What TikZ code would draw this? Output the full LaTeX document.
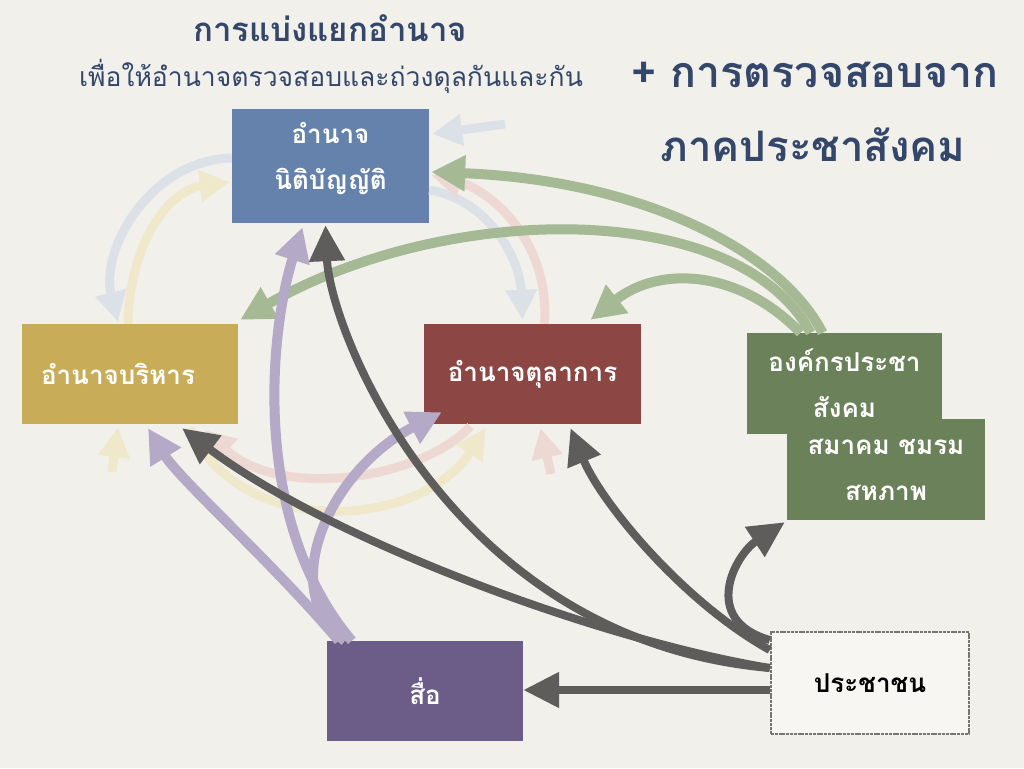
\documentclass[tikz,border=0pt]{standalone}
\usepackage{fontspec}
\setmainfont{Loma}[Script=Thai]
\usetikzlibrary{arrows.meta,positioning,calc}
\definecolor{paper}{HTML}{F2F0EB}
\definecolor{navy}{HTML}{34476A}
\definecolor{legblue}{HTML}{6482AB}
\definecolor{exegold}{HTML}{C9AC57}
\definecolor{judred}{HTML}{8C4643}
\definecolor{socgreen}{HTML}{6A8159}
\definecolor{medpurple}{HTML}{6B5D87}
\definecolor{pplgray}{HTML}{5E5D5C}
\definecolor{medline}{HTML}{B4A9C7}
\definecolor{socline}{HTML}{A5B995}
\definecolor{fblue}{HTML}{DCE1E7}
\definecolor{fyellow}{HTML}{F0E8CB}
\definecolor{fred}{HTML}{EED8D4}
\tikzstyle{power}=[rectangle,inner sep=0pt,text=white,align=center,
                font=\bfseries\fontsize{26}{46}\selectfont]
\tikzstyle{ppl}=[draw=pplgray,line width=8pt,-{Triangle[length=36pt,width=34pt]}]
\tikzstyle{med}=[draw=medline,line width=10pt,-{Triangle[length=34pt,width=34pt]}]
\tikzstyle{soc}=[draw=socline,line width=10pt,-{Triangle[length=34pt,width=34pt]}]
\tikzstyle{fade}=[line width=9pt,-{Triangle[length=30pt,width=30pt]}]

\begin{document}
\begin{tikzpicture}[x=1pt,y=-1pt]
  \fill[paper] (0,0) rectangle (1024,768);
  \useasboundingbox (0,0) rectangle (1024,768);

  % titles
  \node[text=navy,font=\bfseries\fontsize{33}{40}\selectfont] (title) at (330,28) {การแบ่งแยกอำนาจ};
  \node[text=navy,font=\fontsize{26.5}{32}\selectfont] (subtitle) at (331,76) {เพื่อให้อำนาจตรวจสอบและถ่วงดุลกันและกัน};
  \node[text=navy,font=\bfseries\fontsize{43}{52}\selectfont] (check) at (815,75) {+ การตรวจสอบจาก};
  \node[text=navy,font=\bfseries\fontsize{42}{52}\selectfont] (civil) at (813,145) {ภาคประชาสังคม};

  % boxes
  \node[power,fill=legblue,minimum width=197pt,minimum height=114pt,
        label={[power,yshift=7pt]center:อำนาจ\\นิติบัญญัติ}] (leg) at (330.5,166) {};
  \node[power,fill=exegold,minimum width=216pt,minimum height=100pt] (exe) at (130,374) {อำนาจบริหาร\hspace{24pt}};
  \node[power,fill=judred,minimum width=217pt,minimum height=100pt] (jud) at (532.5,374) {อำนาจตุลาการ};
  \node[power,fill=socgreen,minimum width=195pt,minimum height=101pt] (civA) at (844.5,383.5) {องค์กรประชา\\สังคม};
  \node[power,fill=socgreen,minimum width=198pt,minimum height=101pt] (civB) at (886,469.5) {สมาคม ชมรม\\สหภาพ};
  \node[power,fill=medpurple,minimum width=196pt,minimum height=100pt] (media) at (425,691) {สื่อ};
  \node[power,fill=paper!60!white,text=black,draw=pplgray!85,line width=2.5pt,
        dash pattern=on 3pt off .8pt,minimum width=198pt,minimum height=102pt] (people) at (870,683) {ประชาชน};

  % checks among the powers
  \draw[fade,draw=fblue] ($(leg.west)+(0,-8)$) .. controls (150,160) and (100,250) .. ($(exe.north)+(-12,-2)$);
  \draw[fade,draw=fyellow] ($(exe.north)+(-2,0)$) .. controls (130,240) and (170,190) .. ($(leg.west)+(-2,16)$);
  \draw[fade,draw=fblue] ($(leg.east)+(0,24)$) .. controls (490,200) and (520,260) .. ($(jud.north)+(-10,-4)$);
  \draw[fade,draw=fred] ($(jud.north)+(12,0)$) .. controls (550,240) and (490,190) .. ($(leg.east)+(2,9)$);
  \coordinate (stub1) at (505,124);
  \draw[fade,draw=fblue] (stub1) -- ($(leg.east)+(3,-32)$);
  \draw[fade,draw=fred] ($(jud.south)+(-62,2)$) .. controls (420,480) and (280,500) .. ($(exe.south)+(75,6)$);
  \draw[fade,draw=fyellow] ($(exe.south)+(60,4)$) .. controls (240,540) and (420,530) .. ($(jud.south)+(-47,4)$);
  \coordinate (stub2) at (112,472);
  \draw[fade,draw=fyellow] (stub2) -- ($(exe.south)+(-12,3)$);
  \coordinate (stub3) at (551,474);
  \draw[fade,draw=fred] (stub3) -- ($(jud.south)+(8,4)$);

  % civil society
  \draw[soc] ($(civA.north)+(-22,0)$) .. controls (780,250) and (640,180) .. ($(leg.east)+(2,6)$);
  \draw[soc] ($(civA.north)+(-34,0)$) .. controls (740,200) and (450,200) .. ($(exe.north east)+(2,-4)$);
  \draw[soc] ($(civA.north)+(-44,0)$) .. controls (740,270) and (660,265) .. ($(jud.north)+(58,-4)$);

  % media
  \draw[med] ($(media.north west)+(12,0)$) .. controls (270,560) and (180,480) .. ($(exe.south)+(18,4)$);
  \draw[med] ($(media.north west)+(25,0)$) .. controls (250,520) and (270,330) .. ($(leg.south)+(-28,4)$);
  \draw[med] ($(media.north west)+(18,0)$) .. controls (275,590) and (330,470) .. ($(jud.south west)+(18,-12)$);

  % people
  \draw[ppl] ($(people.west)+(0,-15)$) .. controls (450,640) and (330,330) .. ($(leg.south)+(-5,2)$);
  \draw[ppl] ($(people.west)+(0,-15)$) .. controls (600,640) and (330,540) .. ($(exe.south)+(52,4)$);
  \draw[ppl] ($(people.west)+(0,-33)$) .. controls (680,600) and (600,500) .. ($(jud.south)+(38,4)$);
  \draw[ppl] ($(people.west)+(0,-43)$) .. controls (700,620) and (735,555) .. ($(civB.south west)+(-2,2)$);
  \draw[ppl] ($(people.west)+(0,7)$) -- ($(media.east)+(0,-1)$);
\end{tikzpicture}
\end{document}
